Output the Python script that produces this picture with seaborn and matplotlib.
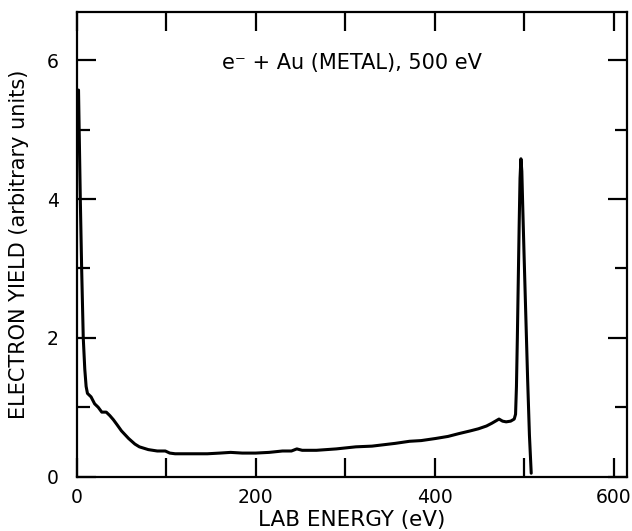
import numpy as np
import pandas as pd
import matplotlib
matplotlib.use("Agg")
import matplotlib.pyplot as plt
import seaborn as sns
from matplotlib.ticker import MultipleLocator

# Secondary-electron spectrum for 500 eV electrons on gold
energy_ev = [2, 4, 5.5, 7.3, 9, 10.5, 12, 16, 20, 24, 28, 33, 37, 41, 45, 50,
             58, 65, 70, 80, 90, 99, 104, 110, 125, 146, 160, 172, 185, 200,
             215, 230, 240, 246, 252, 268, 290, 312, 330, 356, 372, 385, 401,
             415, 427, 440, 449, 458, 464, 468, 472, 476, 480, 485, 489, 490.5,
             491.5, 492.5, 493.5, 494.5, 495.5, 496.5, 497.5, 498.5, 500, 502,
             504, 506, 508]
yield_au = [5.57, 4.0, 3.0, 2.0, 1.55, 1.3, 1.2, 1.15, 1.05, 1.0, 0.93, 0.93,
            0.88, 0.82, 0.75, 0.66, 0.55, 0.47, 0.43, 0.39, 0.37, 0.37, 0.34,
            0.33, 0.33, 0.33, 0.34, 0.35, 0.34, 0.34, 0.35, 0.37, 0.37, 0.40,
            0.38, 0.38, 0.40, 0.43, 0.44, 0.48, 0.51, 0.52, 0.55, 0.58, 0.62,
            0.66, 0.69, 0.73, 0.77, 0.80, 0.83, 0.80, 0.79, 0.80, 0.83, 0.90,
            1.3, 2.0, 2.8, 3.6, 4.3, 4.58, 4.4, 3.9, 3.2, 2.3, 1.4, 0.6, 0.05]

x_major = [0, 200, 400, 600]
y_major = [0, 2, 4, 6]

df = pd.DataFrame({"energy": energy_ev, "yield": yield_au})

sns.set_style("ticks")
plt.rcParams["font.family"] = ["DejaVu Sans"]
plt.rcParams["text.color"] = "black"
plt.rcParams["axes.labelcolor"] = "black"

fig = plt.figure(figsize=(6.32, 5.31), dpi=100)
ax = fig.add_axes([0.1214, 0.1023, 0.8706, 0.8745])

sns.lineplot(data=df, x="energy", y="yield", ax=ax, color="black",
             linewidth=2.2, sort=False)

ax.set_xlim(0, 615)
ax.set_ylim(0, 6.69)
ax.set_xticks(x_major)
ax.set_yticks(y_major)
ax.xaxis.set_minor_locator(MultipleLocator(100))
ax.yaxis.set_minor_locator(MultipleLocator(1))

for s in ax.spines.values():
    s.set_linewidth(1.6)
    s.set_color("black")

ax.tick_params(axis="both", which="both", direction="in", top=True,
               right=True, width=1.6, colors="black", labelcolor="black")
ax.tick_params(axis="x", which="major", length=14, pad=8, labelsize=13.5)
ax.tick_params(axis="x", which="minor", length=14)
ax.tick_params(axis="y", which="major", length=14, pad=13, labelsize=13.5)
ax.tick_params(axis="y", which="minor", length=9)

ax.set_xlabel("LAB ENERGY (eV)", fontsize=15.5, labelpad=2, color="black")
ax.set_ylabel("ELECTRON YIELD (arbitrary units)", fontsize=15, labelpad=13,
              color="black")

ax.text(0.5, 0.891, "e\u207b + Au (METAL), 500 eV", transform=ax.transAxes,
        ha="center", va="center", fontsize=15, color="black")

fig.savefig("out.png", dpi=100)
